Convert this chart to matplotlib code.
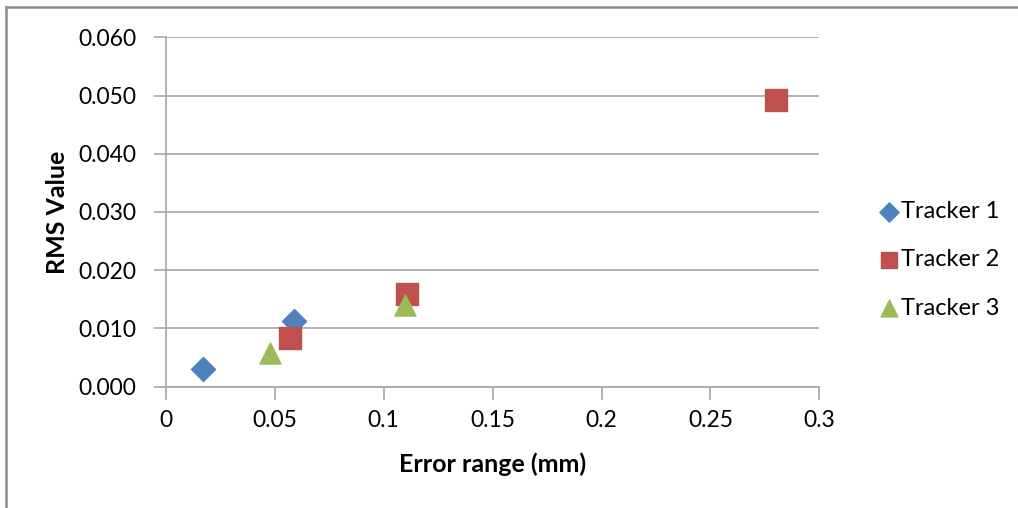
#!/usr/bin/env python3
import matplotlib
matplotlib.use("Agg")
import matplotlib.pyplot as plt
from matplotlib.lines import Line2D

plt.rcParams['font.family'] = ['Lato', 'DejaVu Sans']

# data
t1_x = [0.017, 0.059]
t1_y = [0.0030, 0.0112]
t2_x = [0.057, 0.111, 0.280]
t2_y = [0.0083, 0.0160, 0.0492]
t3_x = [0.048, 0.110]
t3_y = [0.0058, 0.0140]
labels = ["Tracker 1", "Tracker 2", "Tracker 3"]

x_ticks = [0, 0.05, 0.1, 0.15, 0.2, 0.25, 0.3]
x_tick_labels = ["0", "0.05", "0.1", "0.15", "0.2", "0.25", "0.3"]
y_ticks = [0.0, 0.01, 0.02, 0.03, 0.04, 0.05, 0.06]

blue = "#4F81BD"
red = "#C0504D"
green = "#9BBB59"
grey = "#A6A6A6"


def draw():
    fig = plt.figure(figsize=(10.18, 5.08), dpi=100)
    # chart frame, only left and top edges visible
    fig.add_artist(Line2D([6 / 1018, 6 / 1018], [0, 1 - 7 / 508],
                          transform=fig.transFigure, color="#8C8C8C", lw=1.8))
    fig.add_artist(Line2D([6 / 1018, 1], [1 - 7 / 508, 1 - 7 / 508],
                          transform=fig.transFigure, color="#8C8C8C", lw=1.8))

    ax = fig.add_axes([0.1626, 0.2388, 0.6424, 0.6878])
    ax.scatter(t1_x, t1_y, marker="D", s=150, color=blue, zorder=3, label=labels[0])
    ax.scatter(t2_x, t2_y, marker="s", s=230, color=red, zorder=3, label=labels[1])
    ax.scatter(t3_x, t3_y, marker="^", s=230, color=green, zorder=3, label=labels[2])

    ax.set_xlim(0, 0.3)
    ax.set_ylim(0, 0.06)
    ax.set_xticks(x_ticks)
    ax.set_xticklabels(x_tick_labels)
    ax.set_yticks(y_ticks)
    ax.set_yticklabels(["%.3f" % v for v in y_ticks])
    ax.yaxis.grid(True, color=grey, lw=1.2)
    ax.set_axisbelow(True)

    for s in ["top", "right"]:
        ax.spines[s].set_visible(False)
    for s in ["left", "bottom"]:
        ax.spines[s].set_color(grey)
        ax.spines[s].set_linewidth(1.2)
    ax.tick_params(axis="both", color=grey, width=1.2, length=9,
                   labelsize=16.5, labelcolor="#000000")
    ax.tick_params(axis="x", pad=8)
    ax.tick_params(axis="y", pad=12)

    ax.set_xlabel("Error range (mm)", fontsize=18, fontweight="bold", labelpad=15)
    ax.set_ylabel("RMS Value", fontsize=18, fontweight="bold", labelpad=7)

    ax.legend(loc="center left", bbox_to_anchor=(1.055, 0.363), frameon=False,
              fontsize=17, handletextpad=0.05, labelspacing=1.15,
              markerscale=0.8, handlelength=1.0)

    fig.savefig("out.png", dpi=100)


if __name__ == "__main__":
    draw()
